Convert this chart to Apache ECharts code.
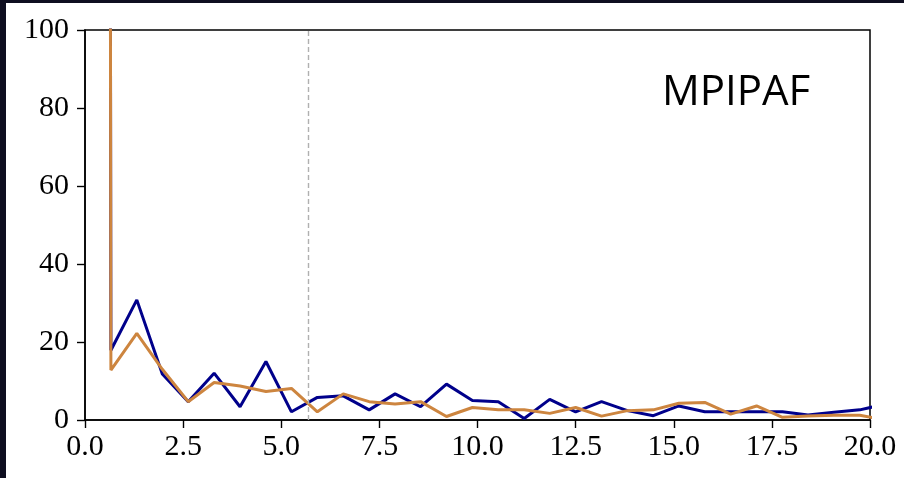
<!DOCTYPE html>
<html>
<head>
<meta charset="utf-8">
<script src="https://cdn.jsdelivr.net/npm/echarts@6/dist/echarts.min.js"></script>
<style>
html,body{margin:0;padding:0;background:#fff;}
#c{width:904px;height:478px;}
</style>
</head>
<body>
<div id="c"></div>
<script>
// Data
const xValues = [0, 0.66, 1.32, 1.97, 2.63, 3.29, 3.95, 4.61, 5.26, 5.92, 6.58, 7.24, 7.90, 8.55, 9.21, 9.87,
  10.53, 11.19, 11.84, 12.50, 13.16, 13.82, 14.48, 15.13, 15.79, 16.45, 17.11, 17.77, 18.42, 19.08, 19.74, 20.40];
const blueValues = [5000, 17.9, 30.8, 11.8, 4.7, 12.0, 3.4, 15.0, 2.1, 5.8, 6.2, 2.6, 6.7, 3.4, 9.2, 5.0,
  4.7, 0.4, 5.3, 2.1, 4.7, 2.4, 1.1, 3.6, 2.1, 2.1, 2.1, 2.1, 1.3, 2.0, 2.6, 4.1];
const orangeValues = [5000, 12.8, 22.2, 13.0, 4.7, 9.6, 8.7, 7.3, 8.1, 2.1, 6.7, 4.7, 4.1, 4.7, 0.9, 3.2,
  2.6, 2.6, 1.7, 3.2, 1.0, 2.4, 2.6, 4.3, 4.5, 1.5, 3.6, 0.7, 1.0, 1.2, 1.2, 0.0];
const dashedX = 5.69;
const xTicks = [0, 2.5, 5, 7.5, 10, 12.5, 15, 17.5, 20];
const yTicks = [0, 20, 40, 60, 80, 100];
const titleText = 'MPIPAF';

const pairs = (ys) => xValues.map((x, i) => [x, ys[i]]);
const serif = '"Liberation Serif", "DejaVu Serif", serif';

const chart = echarts.init(document.getElementById('c'), null, {renderer: 'canvas'});
chart.setOption({
  animation: false,
  backgroundColor: '#ffffff',
  grid: {left: 85, right: 34, top: 30, bottom: 58, show: true, borderColor: '#000', borderWidth: 1.5, backgroundColor: '#fff'},
  xAxis: {
    type: 'value', min: xTicks[0], max: xTicks[xTicks.length - 1], interval: 2.5,
    axisLine: {show: true, lineStyle: {color: '#000', width: 1.5}},
    axisTick: {show: true, length: 8, lineStyle: {color: '#000', width: 1.4}},
    axisLabel: {color: '#000', fontFamily: serif, fontSize: 30, margin: 12, formatter: v => v.toFixed(1)},
    splitLine: {show: false}
  },
  yAxis: {
    type: 'value', min: yTicks[0], max: yTicks[yTicks.length - 1], interval: 20,
    axisLine: {show: true, lineStyle: {color: '#000', width: 1.5}},
    axisTick: {show: true, length: 8, lineStyle: {color: '#000', width: 1.4}},
    axisLabel: {color: '#000', fontFamily: serif, fontSize: 30, margin: 16},
    splitLine: {show: false}
  },
  series: [
    {
      type: 'line', data: pairs(blueValues), showSymbol: false, symbol: 'none', clip: true,
      lineStyle: {color: '#00008b', width: 3}, itemStyle: {color: '#00008b'},
      markLine: {
        silent: true, symbol: 'none', label: {show: false},
        lineStyle: {color: '#b0b0b0', type: [5, 3], width: 1.4},
        data: [{xAxis: dashedX}]
      }
    },
    {
      type: 'line', data: pairs(orangeValues), showSymbol: false, symbol: 'none', clip: true,
      lineStyle: {color: '#cd853f', width: 3}, itemStyle: {color: '#cd853f'}
    }
  ],
  graphic: [
    {type: 'rect', left: 0, top: 0, shape: {width: 6, height: 478}, style: {fill: '#0e0e20'}},
    {type: 'rect', left: 0, top: 0, shape: {width: 904, height: 3}, style: {fill: '#0e0e20'}},
    {type: 'text', left: 662, top: 72, style: {text: titleText, fill: '#000', font: '42px "Open Sans", sans-serif'}}
  ]
});
</script>
</body>
</html>
